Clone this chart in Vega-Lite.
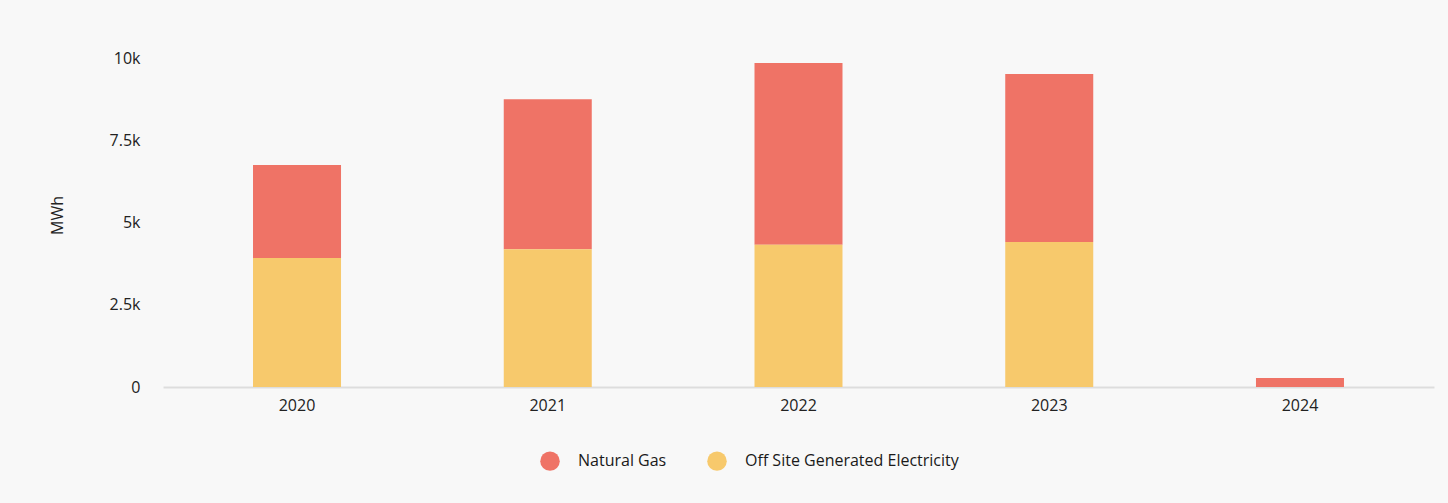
{
  "$schema": "https://vega.github.io/schema/vega-lite/v6.json",
  "width": 1271,
  "height": 329,
  "autosize": {"type": "none"},
  "padding": {"left": 163, "top": 58, "right": 14, "bottom": 116},
  "background": "#f8f8f8",
  "config": {
    "view": {"stroke": null},
    "font": "Open Sans",
    "axis": {"labelFont": "Open Sans", "titleFont": "Open Sans", "labelColor": "#222222", "titleColor": "#222222"},
    "legend": {"labelFont": "Open Sans"}
  },
  "data": {
    "values": [
      {"year": "2020", "source": "Natural Gas", "mwh": 2830},
      {"year": "2020", "source": "Off Site Generated Electricity", "mwh": 3920},
      {"year": "2021", "source": "Natural Gas", "mwh": 4560},
      {"year": "2021", "source": "Off Site Generated Electricity", "mwh": 4190},
      {"year": "2022", "source": "Natural Gas", "mwh": 5530},
      {"year": "2022", "source": "Off Site Generated Electricity", "mwh": 4320},
      {"year": "2023", "source": "Natural Gas", "mwh": 5100},
      {"year": "2023", "source": "Off Site Generated Electricity", "mwh": 4410},
      {"year": "2024", "source": "Natural Gas", "mwh": 270},
      {"year": "2024", "source": "Off Site Generated Electricity", "mwh": 0}
    ]
  },
  "mark": {"type": "bar"},
  "encoding": {
    "x": {
      "field": "year",
      "type": "nominal",
      "scale": {"paddingInner": 0.649, "paddingOuter": 0.359},
      "axis": {
        "title": null,
        "labelAngle": 0,
        "labelFontSize": 16,
        "labelPadding": 10,
        "ticks": false,
        "domainColor": "#dddddd",
        "domainWidth": 2
      }
    },
    "y": {
      "field": "mwh",
      "type": "quantitative",
      "stack": "zero",
      "scale": {"domain": [0, 10000]},
      "axis": {
        "title": "MWh",
        "titleFontSize": 16,
        "titleFontWeight": "normal",
        "titleX": -106,
        "titleY": 157,
        "titleAngle": -90,
        "titleAlign": "center",
        "titleBaseline": "middle",
        "values": [0, 2500, 5000, 7500, 10000],
        "labelExpr": "datum.value == 0 ? '0' : format(datum.value / 1000, '~g') + 'k'",
        "labelFontSize": 16,
        "labelPadding": 23,
        "ticks": false,
        "domain": false,
        "grid": false
      }
    },
    "color": {
      "field": "source",
      "type": "nominal",
      "scale": {
        "domain": ["Natural Gas", "Off Site Generated Electricity"],
        "range": ["#ef7366", "#f7c96c"]
      },
      "legend": {
        "title": null,
        "orient": "none",
        "legendX": 377,
        "legendY": 393,
        "direction": "horizontal",
        "symbolType": "circle",
        "symbolSize": 380,
        "symbolStrokeWidth": 0,
        "labelFontSize": 16,
        "labelLimit": 400,
        "labelColor": "#1a1a1a",
        "labelOffset": 18,
        "columnPadding": 40
      }
    },
    "order": {"field": "source", "sort": "descending"}
  }
}
